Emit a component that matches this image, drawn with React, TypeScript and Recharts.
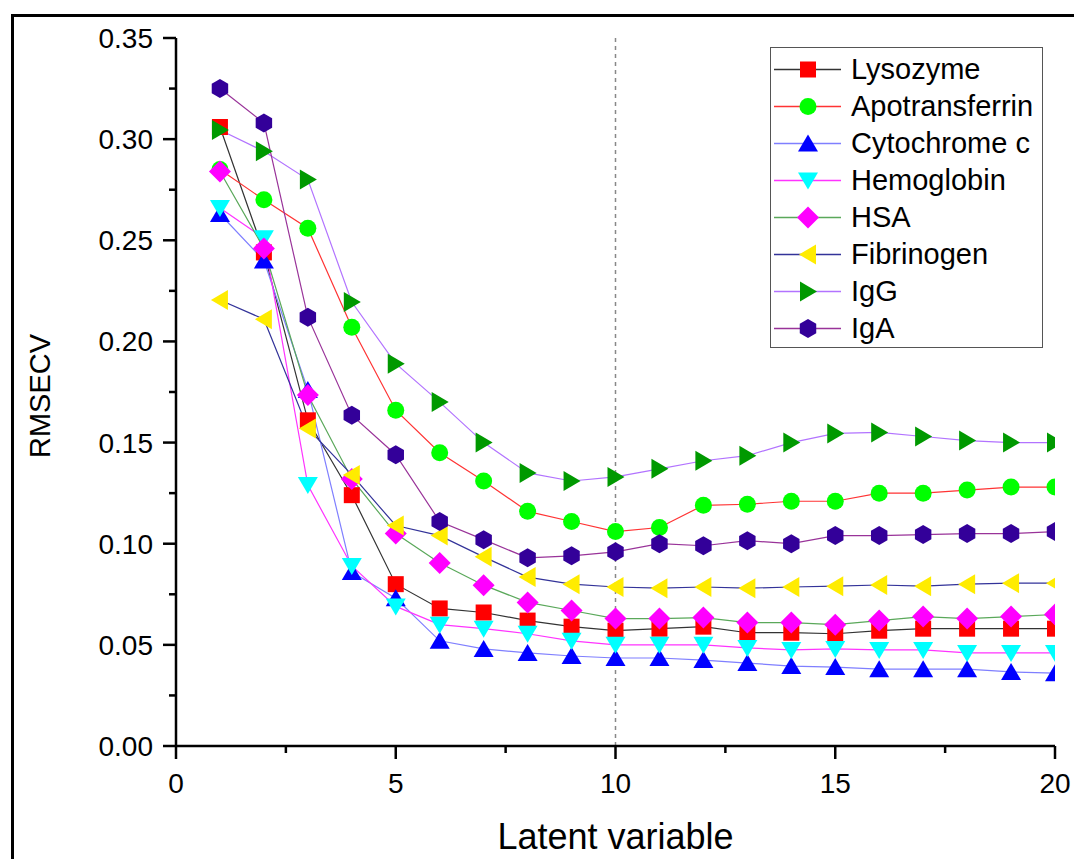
import React from 'react';
import { LineChart, Line, XAxis, YAxis, ReferenceLine } from 'recharts';

// number of latent variables
const latentVars = [1, 2, 3, 4, 5, 6, 7, 8, 9, 10, 11, 12, 13, 14, 15, 16, 17, 18, 19, 20];

const lysozyme = [0.306, 0.244, 0.161, 0.124, 0.080, 0.068, 0.066, 0.062, 0.059, 0.057, 0.058, 0.059, 0.056, 0.056, 0.0555, 0.057, 0.058, 0.058, 0.058, 0.058];
const apotransferrin = [0.285, 0.270, 0.256, 0.207, 0.166, 0.145, 0.131, 0.116, 0.111, 0.106, 0.108, 0.119, 0.1195, 0.121, 0.121, 0.125, 0.125, 0.1265, 0.128, 0.128];
const cytochromeC = [0.263, 0.240, 0.176, 0.086, 0.073, 0.052, 0.048, 0.046, 0.0445, 0.0435, 0.0435, 0.0425, 0.041, 0.0395, 0.039, 0.038, 0.038, 0.038, 0.0366, 0.036];
const hemoglobin = [0.266, 0.251, 0.129, 0.089, 0.069, 0.060, 0.058, 0.0555, 0.052, 0.050, 0.050, 0.050, 0.0485, 0.0475, 0.048, 0.0475, 0.0475, 0.046, 0.046, 0.046];
const hsa = [0.284, 0.246, 0.1735, 0.132, 0.105, 0.0905, 0.0795, 0.071, 0.067, 0.063, 0.063, 0.0635, 0.061, 0.061, 0.060, 0.062, 0.064, 0.063, 0.064, 0.065];
const fibrinogen = [0.2205, 0.211, 0.157, 0.134, 0.109, 0.104, 0.0935, 0.0835, 0.080, 0.0786, 0.078, 0.0786, 0.078, 0.0786, 0.079, 0.0796, 0.079, 0.080, 0.0805, 0.0805];
const igg = [0.3045, 0.294, 0.280, 0.2195, 0.189, 0.170, 0.150, 0.135, 0.131, 0.133, 0.137, 0.141, 0.1435, 0.150, 0.1545, 0.155, 0.153, 0.151, 0.150, 0.150];
const iga = [0.325, 0.308, 0.212, 0.1635, 0.144, 0.111, 0.102, 0.093, 0.094, 0.096, 0.100, 0.099, 0.1015, 0.100, 0.104, 0.104, 0.1045, 0.105, 0.105, 0.106];

const xTicks = [0, 2.5, 5, 7.5, 10, 12.5, 15, 17.5, 20];
const yTicks = [0, 0.025, 0.05, 0.075, 0.1, 0.125, 0.15, 0.175, 0.2, 0.225, 0.25, 0.275, 0.3, 0.325, 0.35];

type Shape = 'square' | 'circle' | 'up' | 'down' | 'diamond' | 'left' | 'right' | 'hexagon';

const series: { key: string; values: number[]; line: string; fill: string; shape: Shape }[] = [
    { key: 'Lysozyme', values: lysozyme, line: '#333333', fill: '#ff0000', shape: 'square' },
    { key: 'Apotransferrin', values: apotransferrin, line: '#ff3333', fill: '#00ff00', shape: 'circle' },
    { key: 'Cytochrome c', values: cytochromeC, line: '#7f7fff', fill: '#0000ff', shape: 'up' },
    { key: 'Hemoglobin', values: hemoglobin, line: '#ff33ff', fill: '#00ffff', shape: 'down' },
    { key: 'HSA', values: hsa, line: '#5aa85a', fill: '#ff00ff', shape: 'diamond' },
    { key: 'Fibrinogen', values: fibrinogen, line: '#333399', fill: '#ffec00', shape: 'left' },
    { key: 'IgG', values: igg, line: '#b273ff', fill: '#009900', shape: 'right' },
    { key: 'IgA', values: iga, line: '#993399', fill: '#330099', shape: 'hexagon' },
];

const data = latentVars.map((lv, i) => {
    const row: Record<string, number> = { lv };
    series.forEach(s => { row[s.key] = s.values[i]; });
    return row;
});

const FONT = '"Liberation Sans", Arial, sans-serif';

const Marker = ({ cx, cy, shape, fill }: { cx: number; cy: number; shape: Shape; fill: string }) => {
    switch (shape) {
        case 'square':
            return <rect x={cx - 8} y={cy - 8} width={16} height={16} fill={fill} />;
        case 'circle':
            return <circle cx={cx} cy={cy} r={8.5} fill={fill} />;
        case 'up':
            return <polygon points={`${cx},${cy - 9} ${cx + 10},${cy + 8} ${cx - 10},${cy + 8}`} fill={fill} />;
        case 'down':
            return <polygon points={`${cx - 10},${cy - 8} ${cx + 10},${cy - 8} ${cx},${cy + 9}`} fill={fill} />;
        case 'diamond':
            return <polygon points={`${cx},${cy - 11} ${cx + 11},${cy} ${cx},${cy + 11} ${cx - 11},${cy}`} fill={fill} />;
        case 'left':
            return <polygon points={`${cx - 9},${cy} ${cx + 8},${cy - 10} ${cx + 8},${cy + 10}`} fill={fill} />;
        case 'right':
            return <polygon points={`${cx + 9},${cy} ${cx - 8},${cy - 10} ${cx - 8},${cy + 10}`} fill={fill} />;
        case 'hexagon': {
            const r = 9.5;
            const pts = [-90, -30, 30, 90, 150, 210]
                .map(a => `${cx + r * Math.cos((a * Math.PI) / 180)},${cy + r * Math.sin((a * Math.PI) / 180)}`)
                .join(' ');
            return <polygon points={pts} fill={fill} />;
        }
    }
    return null;
};

const XTick = (props: any) => {
    const { x, y, payload } = props;
    const major = payload.value % 5 === 0;
    return (
        <g>
            <line x1={x} x2={x} y1={y} y2={y + (major ? 13 : 7)} stroke="#000" strokeWidth={2.5} />
            {major && (
                <text x={x} y={y + 47} textAnchor="middle" fontSize={28} fontFamily={FONT} fill="#000">
                    {payload.value}
                </text>
            )}
        </g>
    );
};

const YTick = (props: any) => {
    const { x, y, payload } = props;
    const major = Math.round(payload.value * 1000) % 50 === 0;
    return (
        <g>
            <line x1={x} x2={x - (major ? 13 : 7)} y1={y} y2={y} stroke="#000" strokeWidth={2.5} />
            {major && (
                <text x={x - 23} y={y + 10} textAnchor="end" fontSize={28} fontFamily={FONT} fill="#000">
                    {payload.value.toFixed(2)}
                </text>
            )}
        </g>
    );
};

const XLabel = (props: any) => {
    const { x, y, width } = props.viewBox;
    return (
        <text x={x + width / 2} y={y + 103} textAnchor="middle" fontSize={36} fontFamily={FONT} fill="#000">
            Latent variable
        </text>
    );
};

const YLabel = (props: any) => {
    const { x, y, height } = props.viewBox;
    const cx = x + 40;
    const cy = y + height / 2 + 4;
    return (
        <text x={cx} y={cy} transform={`rotate(-90 ${cx} ${cy})`} textAnchor="middle" dominantBaseline="central"
            fontSize={29} fontFamily={FONT} fill="#000">
            RMSECV
        </text>
    );
};

const LegendBox = () => (
    <div style={{
        position: 'absolute', left: 770, top: 47, width: 273, height: 301,
        border: '1.5px solid #555', background: '#fff', boxSizing: 'border-box',
        paddingTop: 3, fontFamily: FONT,
    }}>
        {series.map(s => (
            <div key={s.key} style={{ height: 37, display: 'flex', alignItems: 'center' }}>
                <svg width={78} height={37} style={{ flex: 'none' }}>
                    <line x1={3} x2={70} y1={18.5} y2={18.5} stroke={s.line} strokeWidth={1.5} />
                    <Marker cx={37} cy={18.5} shape={s.shape} fill={s.fill} />
                </svg>
                <span style={{ fontSize: 29, color: '#000', marginLeft: 2, whiteSpace: 'nowrap' }}>{s.key}</span>
            </div>
        ))}
    </div>
);

export default function App() {
    return (
        <div style={{ position: 'fixed', left: 0, top: 0, width: 1074, height: 859, overflow: 'hidden', background: '#fff' }}>
            {/* outer frame */}
            <div style={{
                position: 'absolute', left: 11, top: 14, width: 1100, height: 900,
                borderTop: '3px solid #000', borderLeft: '3px solid #000',
            }} />
            <div style={{ position: 'absolute', left: 0, top: 0 }}>
                <LineChart width={1074} height={859} data={data} margin={{ top: 38, right: 19, bottom: 0, left: 0 }}>
                    <XAxis
                        dataKey="lv"
                        type="number"
                        domain={[0, 20]}
                        ticks={xTicks}
                        allowDataOverflow
                        height={113}
                        axisLine={{ stroke: '#000', strokeWidth: 2.5 }}
                        tickLine={false}
                        tickSize={0}
                        tickMargin={0}
                        tick={<XTick />}
                        interval={0}
                        label={<XLabel />}
                    />
                    <YAxis
                        type="number"
                        domain={[0, 0.35]}
                        ticks={yTicks}
                        allowDataOverflow
                        width={176}
                        axisLine={{ stroke: '#000', strokeWidth: 2.5 }}
                        tickLine={false}
                        tickSize={0}
                        tickMargin={0}
                        tick={<YTick />}
                        interval={0}
                        label={<YLabel />}
                    />
                    <ReferenceLine x={10} stroke="#888" strokeDasharray="4 4" strokeWidth={1.5} />
                    {series.map(s => (
                        <Line
                            key={s.key}
                            dataKey={s.key}
                            type="linear"
                            stroke={s.line}
                            strokeWidth={1.2}
                            isAnimationActive={false}
                            activeDot={false}
                            dot={(p: any) => (
                                <Marker key={`${s.key}-${p.index}`} cx={p.cx} cy={p.cy} shape={s.shape} fill={s.fill} />
                            )}
                        />
                    ))}
                </LineChart>
            </div>
            <LegendBox />
        </div>
    );
}
